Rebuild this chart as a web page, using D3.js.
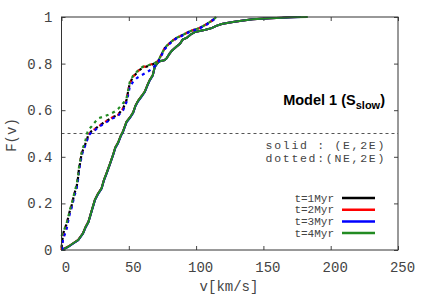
<!DOCTYPE html>
<html>
<head>
<meta charset="utf-8">
<script src="https://cdn.jsdelivr.net/npm/d3@7"></script>
<style>
  body { margin: 0; background: #fff; }
  text { font-family: "Liberation Mono", "DejaVu Sans Mono", monospace; fill: #444; }
</style>
</head>
<body>
<div id="chart"></div>
<script>
var width = 425;
var height = 298;

var xTicks = [0, 50, 100, 150, 200, 250];
var yTicks = [0, 0.2, 0.4, 0.6, 0.8, 1];
var seriesNames = ["t=1Myr", "t=2Myr", "t=3Myr", "t=4Myr"];
var seriesColors = ["#000000", "#ff0000", "#0000ff", "#228b22"];

// solid : (E,2E)   [v, F]
var solid1 = [[0,0],[2,0.005],[5,0.014],[9,0.03],[12.4,0.043],[16,0.072],[18,0.1],[20,0.12],[22.5,0.17],[24.8,0.215],[27,0.24],[29.8,0.265],[31.5,0.3],[33.5,0.33],[36,0.37],[38.4,0.41],[40,0.44],[42,0.46],[44,0.49],[45.8,0.51],[48.3,0.55],[51,0.57],[53.2,0.59],[55,0.62],[56.9,0.64],[59.5,0.66],[61.9,0.68],[64,0.71],[65.6,0.73],[67.8,0.75],[69.3,0.787],[71,0.8],[73,0.81],[76.7,0.815],[78,0.822],[80.4,0.844],[82,0.855],[85.5,0.873],[88,0.885],[90,0.903],[92.9,0.91],[96,0.925],[99,0.935],[102.6,0.94],[107,0.945],[111.5,0.952],[115,0.962],[119,0.97],[124,0.975],[128.5,0.98],[135,0.985],[142,0.99],[148.5,0.993],[155,0.995],[164,0.997],[170,1]];
var solid2 = [[0,0],[2,0.006],[5,0.015],[9,0.03],[12.4,0.044],[16,0.073],[18,0.1],[20,0.122],[22.5,0.17],[24.8,0.215],[27,0.24],[29.8,0.266],[31.5,0.3],[33.5,0.33],[36,0.37],[38.4,0.41],[40,0.44],[42,0.46],[44,0.49],[45.8,0.51],[48.3,0.55],[51,0.57],[53.2,0.59],[55,0.62],[56.9,0.64],[59.5,0.66],[61.9,0.68],[64,0.71],[65.6,0.73],[67.8,0.75],[69.3,0.787],[71,0.8],[73,0.81],[76.7,0.815],[78,0.822],[80.4,0.844],[82,0.855],[85.5,0.873],[88,0.885],[90,0.903],[92.9,0.91],[96,0.925],[99,0.935],[102.6,0.94],[107,0.945],[111.5,0.952],[115,0.962],[119,0.97],[124,0.975],[128.5,0.98],[135,0.985],[142,0.99],[148.5,0.993],[155,0.995],[164,0.997],[175,1]];
var solid3 = [[0,0],[2,0.005],[5,0.013],[9,0.029],[12.4,0.042],[16,0.071],[18,0.098],[20,0.12],[22.5,0.168],[24.8,0.213],[27,0.238],[29.8,0.264],[31.5,0.298],[33.5,0.328],[36,0.368],[38.4,0.408],[40,0.438],[42,0.458],[44,0.488],[45.8,0.508],[48.3,0.548],[51,0.568],[53.2,0.588],[55,0.618],[56.9,0.638],[59.5,0.658],[61.9,0.678],[64,0.708],[65.6,0.728],[67.8,0.748],[69.3,0.785],[71,0.8],[73,0.81],[76.7,0.815],[78,0.822],[80.4,0.844],[82,0.855],[85.5,0.873],[88,0.885],[90,0.903],[92.9,0.91],[96,0.925],[99,0.935],[102.6,0.94],[107,0.945],[111.5,0.952],[115,0.962],[119,0.97],[124,0.975],[128.5,0.98],[135,0.985],[142,0.99],[148.5,0.993],[155,0.995],[164,0.997],[178,1]];
var solid4 = [[0,0],[2,0.005],[5,0.014],[9,0.03],[12.4,0.043],[16,0.072],[18,0.1],[20,0.12],[22.5,0.17],[24.8,0.215],[27,0.24],[29.8,0.265],[31.5,0.3],[33.5,0.33],[36,0.37],[38.4,0.41],[40,0.44],[42,0.46],[44,0.49],[45.8,0.51],[48.3,0.55],[51,0.57],[53.2,0.59],[55,0.62],[56.9,0.64],[59.5,0.66],[61.9,0.68],[64,0.71],[65.6,0.73],[67.8,0.75],[69.3,0.787],[71,0.8],[73,0.81],[76.7,0.815],[78,0.822],[80.4,0.844],[82,0.855],[85.5,0.873],[88,0.885],[90,0.903],[92.9,0.91],[96,0.925],[99,0.935],[102.6,0.94],[107,0.945],[111.5,0.952],[115,0.962],[119,0.97],[124,0.975],[128.5,0.98],[135,0.985],[142,0.99],[148.5,0.993],[155,0.995],[164,0.997],[172,0.999],[183,1]];

// dotted : (NE,2E)   [v, F]
var dotted1 = [[0,0.01],[0.8,0.05],[2,0.09],[3.8,0.11],[5,0.14],[6.3,0.17],[7.5,0.19],[8.7,0.22],[10,0.25],[11.2,0.27],[12.4,0.315],[13,0.35],[13.7,0.37],[15,0.415],[16,0.43],[17.4,0.45],[19,0.475],[19.9,0.494],[22.3,0.51],[25,0.52],[27.3,0.53],[31,0.545],[34.7,0.558],[38,0.57],[42,0.58],[44,0.595],[45.8,0.608],[47,0.625],[48.3,0.644],[49.5,0.68],[50.7,0.715],[53.2,0.744],[56,0.76],[58.1,0.773],[61,0.784],[63,0.787],[66.8,0.794],[69,0.8],[71.7,0.81],[74,0.835],[76.7,0.866],[80,0.885],[82.8,0.9],[86,0.912],[90,0.923],[96,0.94],[102.6,0.953],[108,0.97],[112,0.985],[115,1]];
var dotted2 = [[0,0],[0.5,0.03],[1.3,0.055],[2.5,0.08],[3.8,0.1],[5,0.136],[6.3,0.17],[7.5,0.19],[8.7,0.22],[10,0.25],[11.2,0.27],[12.4,0.315],[13,0.35],[13.7,0.37],[15,0.415],[16,0.43],[17.4,0.45],[19,0.475],[19.9,0.494],[22.3,0.51],[25,0.52],[27.3,0.53],[31,0.545],[34.7,0.558],[38,0.57],[42,0.58],[44,0.595],[45.8,0.608],[47,0.625],[48.3,0.644],[49.5,0.68],[50.7,0.715],[53.2,0.744],[56,0.762],[58.1,0.775],[61,0.786],[63,0.79],[66.8,0.797],[69,0.803],[71.7,0.81],[74,0.836],[76.7,0.866],[80,0.886],[82.8,0.9],[86,0.912],[90,0.923],[96,0.94],[102.6,0.953],[108,0.97],[112,0.985],[114,1]];
var dotted3 = [[0.5,0],[1,0.04],[2,0.06],[3.8,0.09],[5,0.125],[6.3,0.16],[7.5,0.18],[8.7,0.21],[10,0.24],[11.2,0.262],[12.4,0.305],[13,0.34],[13.7,0.362],[15,0.405],[16,0.425],[17.4,0.445],[19,0.47],[19.9,0.49],[22.3,0.505],[25,0.515],[27.3,0.527],[31,0.54],[34.7,0.553],[38,0.565],[42,0.575],[44,0.59],[45.8,0.6],[47,0.618],[48.3,0.635],[49.5,0.665],[50.7,0.7],[53,0.72],[56,0.738],[59.4,0.75],[62,0.758],[64,0.765],[67.8,0.78],[70,0.795],[72,0.808],[74,0.832],[76.7,0.862],[80,0.883],[82.8,0.898],[86,0.91],[90,0.921],[96,0.938],[102.6,0.951],[108,0.968],[112,0.985],[116,1]];
var dotted4 = [[0,0.06],[1.3,0.075],[2.5,0.095],[3.8,0.115],[5,0.14],[6.3,0.175],[7.5,0.195],[8.7,0.225],[10,0.255],[11.2,0.28],[12.4,0.32],[13,0.355],[13.7,0.375],[15,0.42],[16,0.44],[17.4,0.46],[19,0.5],[19.9,0.515],[22.3,0.53],[25,0.55],[27.3,0.565],[31,0.572],[34.7,0.58],[39.6,0.594],[42,0.605],[44.6,0.622],[46.5,0.635],[48.3,0.65],[49.5,0.685],[50.7,0.72],[53.2,0.748],[56,0.765],[58.1,0.778],[61,0.788],[63,0.79],[66.8,0.797],[69,0.802],[71.7,0.81],[74,0.836],[76.7,0.868],[80,0.887],[82.8,0.9],[86,0.912],[90,0.923],[96,0.94],[102.6,0.953],[108,0.97],[112,0.985],[115,1]];

var solidSeries = [solid1, solid2, solid3, solid4];
var dottedSeries = [dotted1, dotted2, dotted3, dotted4];

var svg = d3.select("#chart")
    .append("svg")
    .attr("width", width)
    .attr("height", height);

var x = d3.scaleLinear().domain([0, 250]).range([61.5, 398]);
var y = d3.scaleLinear().domain([0, 1]).range([250, 17]);

var line = d3.line()
    .x(function(d) { return x(d[0]); })
    .y(function(d) { return y(d[1]); });

// axes, ticks pointing inward
var bottom = svg.append("g")
    .attr("transform", "translate(0," + y(0) + ")")
    .call(d3.axisBottom(x).tickValues(xTicks).tickSize(-4).tickPadding(12).tickFormat(d3.format("d")));
bottom.selectAll("text").attr("dx", 4);

svg.append("g")
    .attr("transform", "translate(0," + y(1) + ")")
    .call(d3.axisTop(x).tickValues(xTicks).tickSize(-4).tickFormat(""));

svg.append("g")
    .attr("transform", "translate(" + x(0) + ",0)")
    .call(d3.axisLeft(y).tickValues(yTicks).tickSize(-4).tickPadding(9).tickFormat(d3.format("")));

svg.append("g")
    .attr("transform", "translate(" + x(250) + ",0)")
    .call(d3.axisRight(y).tickValues(yTicks).tickSize(-4).tickFormat(""));

svg.selectAll(".domain").remove();
svg.selectAll(".tick line").attr("stroke", "#444");
svg.selectAll(".tick text")
    .style("font-family", "'Liberation Mono', monospace")
    .style("font-size", "14px")
    .attr("fill", "#444");

// 0.5 reference line
svg.append("line")
    .attr("x1", x(0))
    .attr("x2", x(250))
    .attr("y1", y(0.5))
    .attr("y2", y(0.5))
    .attr("stroke", "#555")
    .attr("stroke-width", 1)
    .attr("stroke-dasharray", "3,3");

// curves
var curves = svg.append("g");
solidSeries.forEach(function(s, i) {
    curves.append("path")
        .datum(s)
        .attr("d", line)
        .attr("fill", "none")
        .attr("stroke", seriesColors[i])
        .attr("stroke-width", 2);
});
dottedSeries.forEach(function(s, i) {
    curves.append("path")
        .datum(s)
        .attr("d", line)
        .attr("fill", "none")
        .attr("stroke", seriesColors[i])
        .attr("stroke-width", 2.2)
        .attr("stroke-dasharray", "3,4");
});

// frame
svg.append("rect")
    .attr("x", x(0))
    .attr("y", y(1))
    .attr("width", x(250) - x(0))
    .attr("height", y(0) - y(1))
    .attr("fill", "none")
    .attr("stroke", "#333")
    .attr("stroke-width", 1);

// axis titles
svg.append("text")
    .attr("x", 229)
    .attr("y", 291)
    .attr("text-anchor", "middle")
    .style("font-size", "14px")
    .text("v[km/s]");

svg.append("text")
    .attr("transform", "translate(16,135) rotate(-90)")
    .attr("text-anchor", "middle")
    .style("font-size", "14px")
    .text("F(v)");

// model title
var title = svg.append("text")
    .attr("x", 385)
    .attr("y", 105)
    .attr("text-anchor", "end")
    .style("font-family", "'Liberation Sans', Arial, sans-serif")
    .style("font-weight", "bold")
    .style("font-size", "14.5px");
title.append("tspan").style("fill", "#000").text("Model 1 (S");
title.append("tspan").style("fill", "#000").style("font-size", "11px").attr("dy", 4).text("slow");
title.append("tspan").style("fill", "#000").attr("dy", -4).text(")");

svg.append("text")
    .attr("x", 386)
    .attr("y", 148.5)
    .attr("text-anchor", "end")
    .style("font-size", "11.5px")
    .style("letter-spacing", "1.7px")
    .text("solid : (E,2E)");
svg.append("text")
    .attr("x", 386)
    .attr("y", 161.5)
    .attr("text-anchor", "end")
    .style("font-size", "11.5px")
    .style("letter-spacing", "1.7px")
    .text("dotted:(NE,2E)");

// legend
var legend = svg.append("g");
seriesNames.forEach(function(name, i) {
    var ly = 198 + i * 11.7;
    legend.append("text")
        .attr("x", 334)
        .attr("y", ly + 3.5)
        .attr("text-anchor", "end")
        .style("font-size", "11px")
        .text(name);
    legend.append("line")
        .attr("x1", 342)
        .attr("x2", 375)
        .attr("y1", ly)
        .attr("y2", ly)
        .attr("stroke", seriesColors[i])
        .attr("stroke-width", 2.5);
});
</script>
</body>
</html>
